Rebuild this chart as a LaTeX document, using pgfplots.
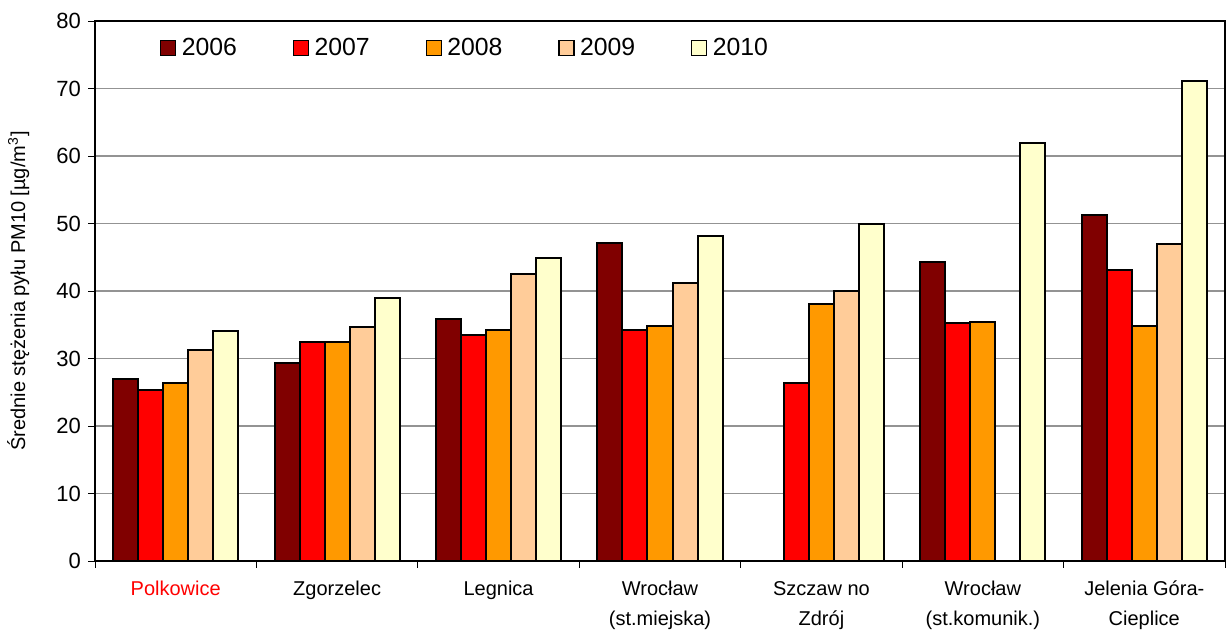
\documentclass[border=0pt]{standalone}
\usepackage{fontspec}
\setmainfont{Liberation Sans}
\usepackage{pgfplots}
\pgfplotsset{compat=1.18}
\definecolor{c2006}{HTML}{800000}
\definecolor{c2007}{HTML}{FF0000}
\definecolor{c2008}{HTML}{FF9900}
\definecolor{c2009}{HTML}{FFCC99}
\definecolor{c2010}{HTML}{FFFFCC}
\begin{document}
\begin{tikzpicture}
\begin{axis}[
  scale only axis, width=565pt, height=270pt,
  ybar=0pt, bar width=0.155,
  xmin=-0.5, xmax=6.5, ymin=0, ymax=80,
  ytick={0,10,...,80},
  xtick={0,...,6},
  xticklabels={{\textcolor{red}{Polkowice}},Zgorzelec,Legnica,{Wrocław\\(st.miejska)},{Szczaw no\\Zdrój},{Wrocław\\(st.komunik.)},{Jelenia Góra-\\Cieplice}},
  minor xtick={-0.5,0.5,...,6.5},
  major x tick style={draw=none},
  tick align=outside, ytick pos=left, xtick pos=bottom,
  major tick length=3.5pt, minor tick length=3.5pt,
  tick style={black, thin},
  ymajorgrids, grid style={gray!85, line width=0.6pt},
  axis line style={black, line width=0.9pt},
  /pgf/number format/assume math mode=true,
  xticklabel style={font=\fontsize{10}{15}\selectfont, align=center, anchor=north, yshift=-3pt},
  yticklabel style={font=\fontsize{11}{13}\selectfont},
  ylabel={Średnie stężenia pyłu PM10 [µg/m\textsuperscript{3}]},
  ylabel style={font=\fontsize{10}{12}\selectfont, at={(axis description cs:-0.068,0.5)}, anchor=center, rotate=0},
  every axis plot/.append style={draw=black, line width=1pt},
  legend columns=5,
  legend style={draw=none, fill=none, at={(0.052,0.95)}, anchor=west, font=\fontsize{12.4}{14}\selectfont, /tikz/every even column/.append style={column sep=26pt}},
  legend image code/.code={\draw[#1, draw=black, line width=0.6pt] (0pt,-3.75pt) rectangle (7.5pt,3.75pt); \path[draw=none, fill=none] (0pt,0pt) -- (8.5pt,0pt);},
]
\addplot[fill=c2006] coordinates {(0,27.0) (1,29.3) (2,35.9) (3,47.1) (5,44.3) (6,51.3)};
\addplot[fill=c2007] coordinates {(0,25.3) (1,32.4) (2,33.5) (3,34.2) (4,26.4) (5,35.3) (6,43.1)};
\addplot[fill=c2008] coordinates {(0,26.4) (1,32.4) (2,34.2) (3,34.8) (4,38.1) (5,35.4) (6,34.8)};
\addplot[fill=c2009] coordinates {(0,31.3) (1,34.7) (2,42.5) (3,41.2) (4,40.0) (6,47.0)};
\addplot[fill=c2010] coordinates {(0,34.1) (1,39.0) (2,44.9) (3,48.1) (4,49.9) (5,61.9) (6,71.1)};
\legend{2006,2007,2008,2009,2010}
\end{axis}
\pgfresetboundingbox
\path (current axis.south west) ++(-47.5pt,-35.5pt) rectangle ([shift={(0.5pt,10.5pt)}]current axis.north east);
\end{tikzpicture}
\end{document}
